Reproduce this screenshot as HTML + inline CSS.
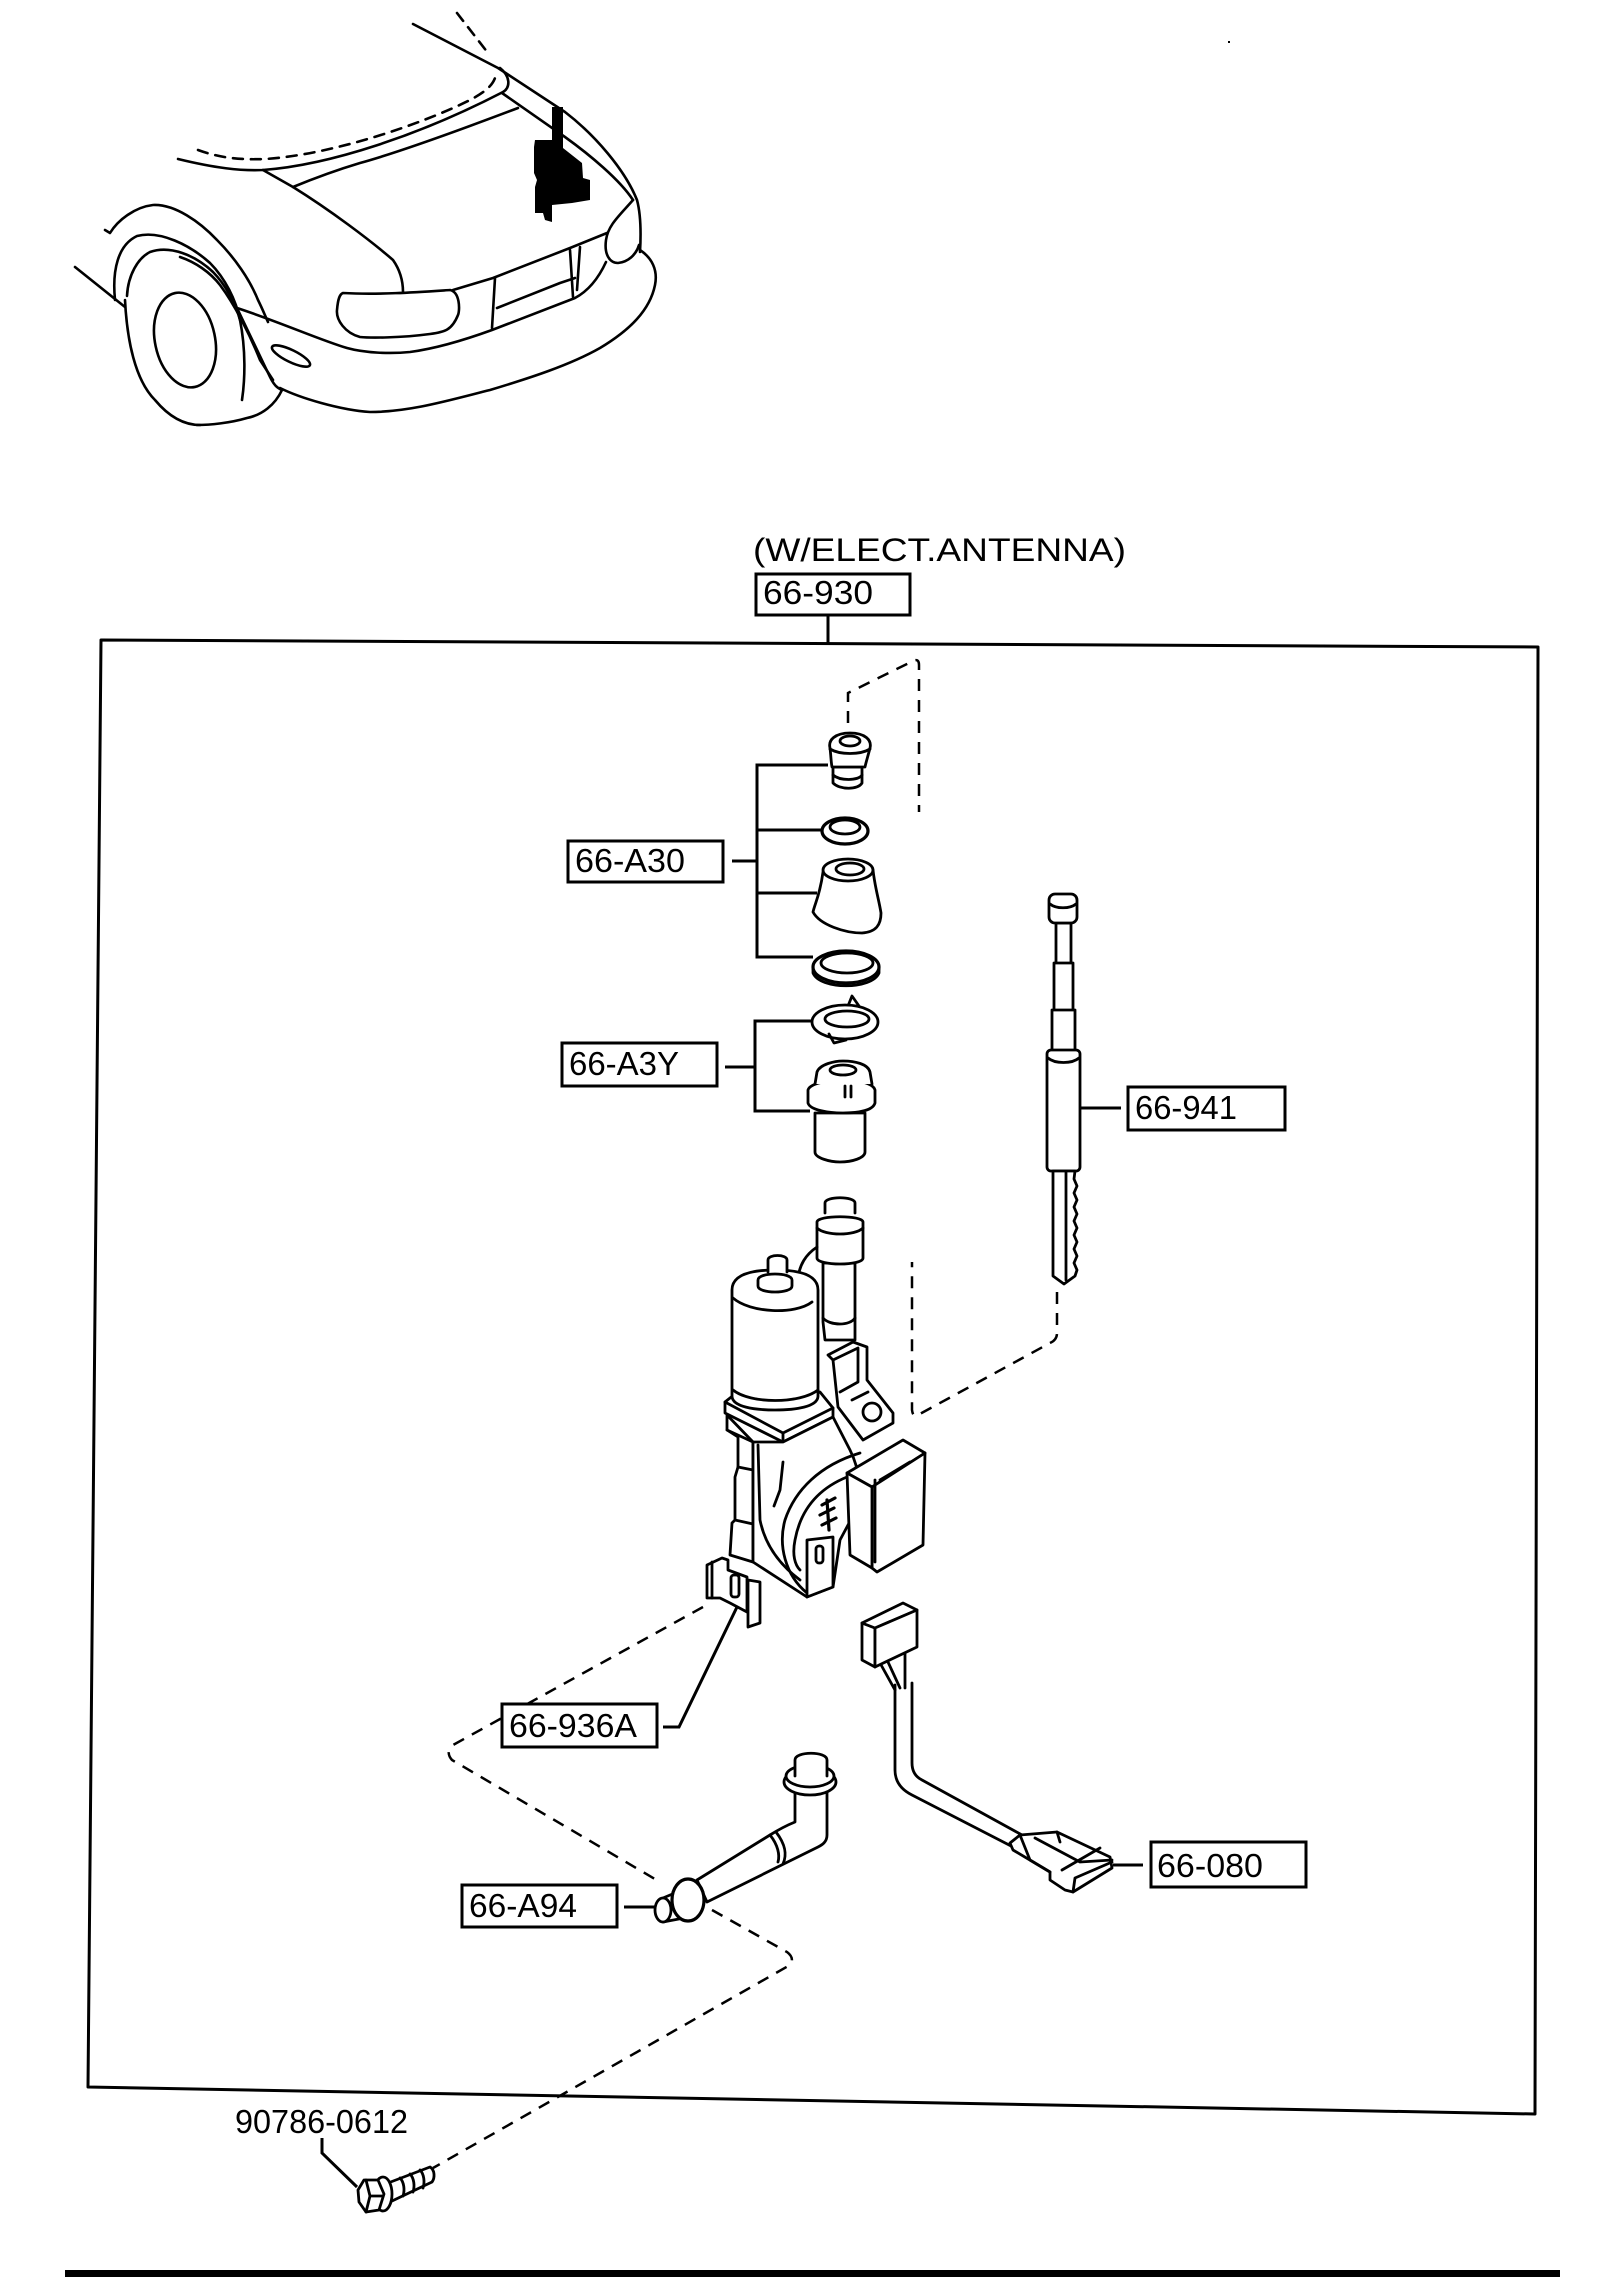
<!DOCTYPE html>
<html>
<head>
<meta charset="utf-8">
<style>
html,body{margin:0;padding:0;background:#fff;}
svg{display:block;}
text{font-family:"Liberation Sans",Arial,sans-serif;fill:#000;}
</style>
</head>
<body>
<svg width="1621" height="2277" viewBox="0 0 1621 2277" xmlns="http://www.w3.org/2000/svg">
<rect x="0" y="0" width="1621" height="2277" fill="#fff"/>

<!-- ================= CAR ================= -->
<g fill="none" stroke="#000" stroke-width="2.6" stroke-linejoin="round" stroke-linecap="round">
  <path d="M413,24 L498,68 L565,112 C595,135 625,170 637,200 C641,215 641,235 640,252"/>
  <path d="M457,13 L488,53" stroke-dasharray="10 8"/>
  <path d="M178,159 C215,168 240,171 263,170 C330,165 420,135 503,92 C511,87 510,76 500,68"/>
  <path d="M198,150 C220,158 240,160 265,159 C330,155 420,125 470,100 C485,92 492,86 495,78" stroke-dasharray="10 8"/>
  <path d="M518,108 C460,130 400,152 360,163 C330,172 310,180 293,187"/>
  <path d="M502,93 L565,137 C590,155 620,180 633,200"/>
  <path d="M633,200 C620,215 608,225 606,240 C604,255 610,263 618,263 C628,262 636,255 639,245"/>
  <path d="M263,170 L293,187 C330,210 370,240 393,260 C400,270 403,280 403,292"/>
  <path d="M343,293 C380,295 420,292 450,290 C460,292 460,310 458,315 C452,330 445,332 430,334 C400,338 370,338 360,337 C345,333 336,320 337,310 C338,298 340,294 343,293 Z"/>
  <path d="M453,290 L493,278 L570,248 L607,233"/>
  <path d="M497,308 L560,283 L575,278"/>
  <path d="M495,278 L492,328"/>
  <path d="M570,250 L573,297"/>
  <path d="M580,247 L577,290"/>
  <path d="M237,308 C280,322 320,340 347,348 C365,353 390,354 410,352 C440,348 470,338 492,330 L575,298 C590,290 600,275 606,262"/>
  <path d="M640,250 C652,258 658,270 655,285 C650,310 630,330 600,348 C570,365 530,378 490,390 C450,400 410,412 370,412 C340,410 300,398 280,388"/>
  <path d="M237,308 C250,335 262,360 270,377 C274,385 277,388 282,390"/>
  <path d="M282,390 C275,405 262,415 247,418 C230,423 210,425 197,425"/>
  <ellipse cx="291" cy="356" rx="21" ry="6" transform="rotate(26 291 356)"/>
  <path d="M105,230 L110,233 C118,220 135,207 153,205 C175,204 200,222 217,240 C235,258 250,280 258,300 C263,310 266,318 268,322"/>
  <path d="M115,300 C112,270 118,245 137,236 C160,230 190,245 210,263 C225,278 236,300 240,320 C246,350 245,380 242,400"/>
  <path d="M127,296 C128,275 138,258 150,252 C170,245 195,255 213,272 C226,285 236,305 240,320"/>
  <path d="M125,300 C127,340 135,380 155,400 C170,418 185,425 200,425"/>
  <path d="M180,257 C195,262 210,272 220,285 C235,305 250,335 260,360 L273,380"/>
  <ellipse cx="185" cy="340" rx="30" ry="48" transform="rotate(-12 185 340)"/>
  <path d="M75,267 L125,307"/>
</g>
<polygon fill="#000" points="535,140 552,140 552,107 563,107 563,148 582,163 583,178 590,180 590,200 572,203 552,205 552,222 545,220 543,213 535,213 535,187 537,180 534,173 534,147"/>
<rect x="1228" y="41" width="2" height="2" fill="#000"/>

<!-- ================= HEADER TEXT ================= -->
<text x="753" y="561" font-size="32" textLength="373" lengthAdjust="spacingAndGlyphs">(W/ELECT.ANTENNA)</text>

<!-- ================= MAIN BOX ================= -->
<g fill="none" stroke="#000" stroke-width="3" stroke-linejoin="round">
  <path d="M101,640 L1538,647 L1535,2114 L88,2087 Z"/>
  <path d="M828,615 L828,645"/>
</g>

<!-- ================= DASHED LINES ================= -->
<g fill="none" stroke="#000" stroke-width="2.5" stroke-dasharray="12 9" stroke-linecap="butt">
  <path d="M848,723 L848,693 L913,661 Q919,658 919,665 L919,812"/>
  <path d="M1057,1292 L1057,1333 Q1057,1340 1050,1343 L918,1415 Q913,1418 912,1410 L912,1262"/>
  <path d="M703,1607 L453,1745 Q445,1752 452,1760 L660,1882"/>
  <path d="M712,1910 L787,1952 Q795,1958 790,1965 L433,2168"/>
</g>

<!-- ================= BRACKETS / LEADERS ================= -->
<g fill="none" stroke="#000" stroke-width="3" stroke-linejoin="miter">
  <path d="M828,765 L757,765 L757,957 L813,957"/>
  <path d="M757,830 L823,830"/>
  <path d="M757,893 L817,893"/>
  <path d="M732,861 L757,861"/>
  <path d="M812,1021 L755,1021 L755,1111 L810,1111"/>
  <path d="M725,1067 L755,1067"/>
  <path d="M1080,1108 L1121,1108"/>
  <path d="M663,1727 L679,1727 L737,1607"/>
  <path d="M624,1907 L657,1907"/>
  <path d="M1113,1865 L1143,1865"/>
  <path d="M322,2138 L322,2153 L357,2187"/>
</g>

<!-- ================= PARTS ================= -->
<g fill="#fff" stroke="#000" stroke-width="2.8" stroke-linejoin="round" stroke-linecap="round">
  <!-- Part 1 cap -->
  <path d="M833,767 L833,783 C840,790 858,790 862,783 L862,767 Z"/>
  <path d="M833,775 C840,781 858,781 862,775" fill="none"/>
  <path d="M830,748 C828,740 835,733 850,733 C865,733 872,740 870,748 C868,756 866,762 865,767 L832,767 C831,762 831,756 830,748 Z"/>
  <path d="M830,749 C840,755 860,755 870,749" fill="none"/>
  <ellipse cx="850" cy="741" rx="10" ry="5"/>
  <!-- Part 2 ring -->
  <ellipse cx="845" cy="831" rx="23" ry="13" stroke-width="3.2"/>
  <ellipse cx="845" cy="827" rx="15" ry="7"/>
  <!-- Part 3 cone -->
  <path d="M823,872 C820,895 815,903 813,912 C820,925 845,933 862,933 C876,932 881,925 881,913 C879,900 875,888 873,870 Z"/>
  <ellipse cx="848" cy="870" rx="25" ry="11"/>
  <ellipse cx="850" cy="869" rx="14" ry="6"/>
  <!-- Part 4 big ring -->
  <path d="M813,967 L813,973 C820,990 872,990 879,973 L879,967 Z"/>
  <ellipse cx="846" cy="967" rx="33" ry="16" stroke-width="3.2"/>
  <ellipse cx="847" cy="963" rx="26" ry="10"/>
  <!-- Part 5 clip ring -->
  <path d="M848,1006 L852,996 L859,1006" />
  <ellipse cx="845" cy="1022" rx="33" ry="17"/>
  <ellipse cx="847" cy="1019" rx="22" ry="8"/>
  <path d="M829,1034 L834,1043 L846,1040" fill="none"/>
  <!-- Part 6 cylinder -->
  <path d="M815,1113 L815,1152 C815,1158 830,1162 840,1162 C852,1162 865,1158 865,1152 L865,1113 Z"/>
  <path d="M808,1090 C810,1083 830,1080 843,1080 C858,1080 873,1083 875,1090 L875,1103 C873,1110 860,1113 843,1113 C828,1113 810,1110 808,1103 Z"/>
  <path d="M815,1084 L817,1072 C820,1064 835,1061 843,1061 C855,1061 868,1064 870,1072 L872,1084"/>
  <ellipse cx="843" cy="1070" rx="13" ry="5"/>
  <path d="M845,1086 L845,1097 M851,1086 L851,1097" fill="none"/>

  <!-- Rod 66-941 -->
  <rect x="1056" y="923" width="15" height="42"/>
  <rect x="1054" y="963" width="19" height="49"/>
  <rect x="1052" y="1010" width="23" height="44"/>
  <rect x="1047" y="1050" width="33" height="121" rx="4"/>
  <path d="M1048,1058 C1055,1064 1072,1064 1079,1058" fill="none"/>
  <rect x="1049" y="894" width="28" height="29" rx="6"/>
  <path d="M1050,904 C1056,909 1070,909 1076,904" fill="none"/>
  <path d="M1053,1171 L1053,1276 L1064,1284 L1075,1276 L1077,1270 L1074,1263 L1077,1256 L1074,1249 L1077,1242 L1074,1235 L1077,1228 L1074,1221 L1077,1214 L1074,1207 L1077,1200 L1074,1193 L1077,1186 L1074,1179 L1075,1171 Z"/>
  <path d="M1066,1172 L1066,1280" fill="none"/>

  <!-- ===== Motor assembly ===== -->
  <path d="M823,1263 L823,1322 L825,1340 L855,1340 L855,1263 Z"/>
  <path d="M823,1318 C830,1326 850,1326 855,1318" fill="none"/>
  <path d="M817,1222 C817,1215 863,1215 863,1222 L863,1258 C863,1266 817,1266 817,1258 Z"/>
  <path d="M817,1228 C825,1236 855,1236 863,1228" fill="none"/>
  <path d="M825,1213 L825,1203 C825,1196 855,1196 855,1203 L855,1213" />
  <path d="M817,1247 C805,1255 800,1265 798,1277" fill="none"/>
  <path d="M725,1402 L735,1394 L820,1392 L833,1408 L833,1417 L783,1442 L725,1413 Z"/>
  <path d="M725,1402 L783,1433 L833,1408 M783,1433 L783,1442" fill="none"/>
  <path d="M732,1290 C732,1275 750,1270 775,1270 C800,1270 818,1275 818,1290 L818,1396 C818,1407 795,1410 775,1410 C755,1410 732,1407 732,1396 Z"/>
  <path d="M733,1298 C750,1313 795,1315 812,1302" fill="none"/>
  <path d="M733,1390 C750,1404 800,1404 818,1390" fill="none"/>
  <path d="M758,1280 C758,1272 792,1272 792,1280 L792,1286 C792,1294 758,1294 758,1286 Z"/>
  <path d="M768,1272 L768,1260 C768,1254 787,1254 787,1260 L787,1272" />
  <path d="M727,1415 L727,1430 L738,1437 L738,1467 L735,1477 L735,1520 L732,1523 L730,1555 L753,1562 L753,1442 Z"/>
  <path d="M727,1430 L753,1442 M738,1467 L753,1470 M735,1520 L753,1524" fill="none"/>
  <path d="M753,1442 L783,1442 L833,1417 L850,1450 C860,1470 862,1492 855,1512 L840,1540 L833,1587 L807,1597 L753,1562 Z"/>
  <path d="M860,1453 C820,1465 795,1490 785,1520 C778,1545 785,1575 807,1593" fill="none"/>
  <path d="M847,1477 C815,1490 800,1513 795,1540 C792,1555 795,1565 800,1570" fill="none"/>
  <path d="M758,1445 L760,1520 C765,1545 780,1565 800,1580" fill="none"/>
  <path d="M783,1462 L780,1490 L774,1506" fill="none"/>
  <path d="M828,1355 L853,1342 L867,1347 L867,1380 L893,1413 L893,1423 L863,1440 L838,1407 L833,1360 Z"/>
  <path d="M833,1360 L858,1348 L858,1382 L840,1392" fill="none"/>
  <circle cx="872" cy="1412" r="9"/>
  <path d="M852,1400 L868,1392" fill="none"/>
  <path d="M822,1505 L835,1498 M820,1515 L834,1508 M822,1525 L836,1518 M827,1500 L829,1530" fill="none" stroke-width="3.2"/>
  <path d="M847,1473 L903,1440 L925,1453 L872,1487 Z"/>
  <path d="M872,1487 L925,1453 L923,1545 L877,1572 L872,1568 Z"/>
  <path d="M847,1473 L872,1487 L872,1568 L850,1555 Z"/>
  <path d="M875,1480 L875,1562" fill="none"/>
  <path d="M880,1480 L910,1462" fill="none"/>
  <path d="M807,1540 L833,1537 L833,1587 L807,1597 Z"/>
  <rect x="816" y="1546" width="7" height="17" rx="3"/>
  <path d="M707,1565 L722,1558 L728,1560 L728,1570 L747,1577 L747,1612 L730,1603 L720,1598 L707,1598 Z"/>
  <path d="M712,1562 L712,1598" fill="none"/>
  <rect x="731" y="1575" width="8" height="22" rx="3"/>
  <path d="M748,1580 L760,1582 L760,1623 L748,1627 Z"/>

  <path d="M880,1663 L895,1690 M888,1662 L900,1688 M905,1650 L905,1688" fill="none"/>
  <path d="M862,1623 L875,1628 L875,1667 L862,1660 Z"/>
  <path d="M862,1623 L903,1603 L917,1610 L875,1628 Z"/>
  <path d="M875,1628 L917,1610 L917,1647 L875,1667 Z"/>
  <path d="M895,1685 L895,1770 C895,1782 902,1790 912,1795 L1013,1847" fill="none"/>
  <path d="M912,1683 L912,1763 C912,1772 916,1777 922,1780 L1022,1835" fill="none"/>
  <path d="M1010,1843 L1020,1835 L1057,1832 L1110,1857 L1112,1868 L1073,1892 L1065,1890 L1050,1880 L1050,1872 L1013,1850 Z"/>
  <path d="M1020,1835 L1030,1860 L1050,1872 M1035,1838 L1080,1862 L1112,1860 M1057,1832 L1060,1842 M1062,1870 L1100,1848 M1073,1892 L1075,1878 L1112,1862" fill="none"/>

  <path d="M827,1790 L827,1835 C827,1842 822,1845 818,1847 L707,1902 L697,1880 L770,1835 C778,1830 785,1826 795,1822 L795,1790 Z"/>
  <path d="M770,1835 C778,1845 780,1855 778,1862 M776,1832 C786,1845 787,1855 783,1864" fill="none"/>
  <ellipse cx="810" cy="1782" rx="26" ry="13"/>
  <ellipse cx="810" cy="1776" rx="24" ry="11"/>
  <path d="M795,1776 L795,1760 C795,1751 827,1751 827,1760 L827,1776" />
  <path d="M663,1898 L682,1890 L684,1918 L663,1922 Z"/>
  <ellipse cx="688" cy="1900" rx="16" ry="21" stroke-width="3.2"/>
  <ellipse cx="663" cy="1910" rx="8" ry="12"/>

  <path d="M388,2183 L430,2167 C435,2170 435,2178 432,2182 L392,2201 Z"/>
  <path d="M400,2178 C404,2182 405,2190 403,2196 M410,2174 C414,2178 415,2186 413,2192 M420,2170 C424,2174 425,2182 423,2188" fill="none"/>
  <ellipse cx="383" cy="2194" rx="9" ry="17"/>
  <path d="M358,2190 L364,2180 L378,2180 L384,2194 L379,2210 L366,2212 L359,2202 Z"/>
  <path d="M366,2180 L370,2196 L366,2212 M370,2196 L383,2196" fill="none"/>
</g>

<!-- ================= LABEL BOXES ================= -->
<g fill="#fff" stroke="#000" stroke-width="3">
  <rect x="756" y="574" width="154" height="41"/>
  <rect x="568" y="841" width="155" height="41"/>
  <rect x="562" y="1043" width="155" height="43"/>
  <rect x="1128" y="1087" width="157" height="43"/>
  <rect x="502" y="1704" width="155" height="43"/>
  <rect x="462" y="1885" width="155" height="42"/>
  <rect x="1151" y="1842" width="155" height="45"/>
</g>
<g font-size="33">
  <text x="763" y="604" textLength="110" lengthAdjust="spacingAndGlyphs">66-930</text>
  <text x="575" y="872" textLength="110" lengthAdjust="spacingAndGlyphs">66-A30</text>
  <text x="569" y="1075" textLength="110" lengthAdjust="spacingAndGlyphs">66-A3Y</text>
  <text x="1135" y="1119" textLength="102" lengthAdjust="spacingAndGlyphs">66-941</text>
  <text x="509" y="1737" textLength="128" lengthAdjust="spacingAndGlyphs">66-936A</text>
  <text x="469" y="1917" textLength="108" lengthAdjust="spacingAndGlyphs">66-A94</text>
  <text x="1157" y="1877" textLength="106" lengthAdjust="spacingAndGlyphs">66-080</text>
</g>
<text x="235" y="2133" font-size="33" textLength="173" lengthAdjust="spacingAndGlyphs">90786-0612</text>

<rect x="65" y="2270" width="1495" height="7" fill="#000"/>
</svg>
</body>
</html>
